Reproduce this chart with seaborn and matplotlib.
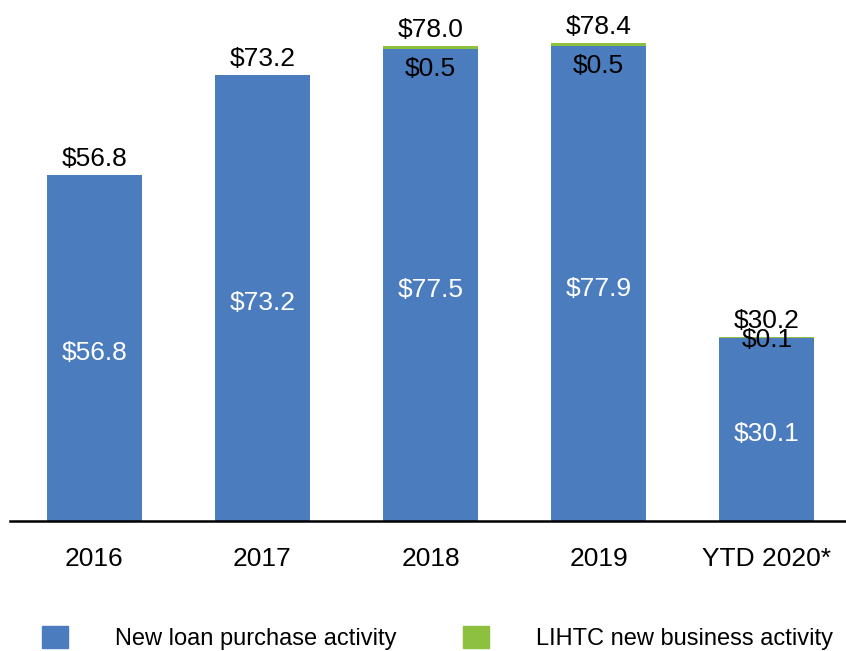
import numpy as np
import pandas as pd
import matplotlib
matplotlib.use('Agg')
import matplotlib.pyplot as plt
import matplotlib.patches as mpatches
import seaborn as sns

sns.set_style('white')
plt.rcParams['font.family'] = ['Liberation Sans', 'DejaVu Sans']

# data
years = ['2016', '2017', '2018', '2019', 'YTD 2020*']
loan_purchase = [56.8, 73.2, 77.5, 77.9, 30.1]
lihtc = [0.0, 0.0, 0.5, 0.5, 0.1]
totals = [56.8, 73.2, 78.0, 78.4, 30.2]
lihtc_labels = ['', '', '$0.5', '$0.5', '$0.1']

blue = '#4A7CBE'
green = '#8DC03F'

df = pd.DataFrame({'year': years, 'loan': loan_purchase, 'lihtc': lihtc, 'total': totals})

fig = plt.figure(figsize=(8.46, 6.51), dpi=100)
ax = fig.add_axes([10 / 846, 130 / 651, 836 / 846, 521 / 651])

# stacked bars: total (green) behind, loan purchase (blue) in front
sns.barplot(data=df, x='year', y='total', color=green, width=0.565, saturation=1,
            linewidth=0, ax=ax)
sns.barplot(data=df, x='year', y='loan', color=blue, width=0.565, saturation=1,
            linewidth=0, ax=ax)

ax.set_xlim(-0.5, 4.47)
ax.set_ylim(0, 85.5)
ax.set_xlabel('')
ax.set_ylabel('')
ax.set_yticks([])
for s in ['top', 'right', 'left']:
    ax.spines[s].set_visible(False)
ax.spines['bottom'].set_color('black')
ax.spines['bottom'].set_linewidth(1.8)
ax.tick_params(axis='x', length=0, pad=18.5, labelsize=19, colors='black')

# value labels
lihtc_off = [0, 0, -16.5, -16.5, -2.5]
for i in range(len(years)):
    ax.annotate('$%.1f' % loan_purchase[i], (i, loan_purchase[i] / 2), xytext=(0, -3.5),
                textcoords='offset points', color='white', ha='center', va='center', fontsize=19)
    ax.annotate('$%.1f' % totals[i], (i, totals[i]), xytext=(0, 3), textcoords='offset points',
                ha='center', va='bottom', fontsize=19, color='black')
    if lihtc_labels[i]:
        ax.annotate(lihtc_labels[i], (i, totals[i]), xytext=(0, lihtc_off[i]),
                    textcoords='offset points', ha='center', va='center', fontsize=19, color='black')

handles = [mpatches.Patch(color=blue, label='New loan purchase activity'),
           mpatches.Patch(color=green, label='LIHTC new business activity')]
fig.legend(handles=handles, loc='center left', bbox_to_anchor=(42 / 846, 1 - 638 / 651),
           ncol=2, frameon=False, fontsize=17, borderpad=0, borderaxespad=0, labelcolor='black',
           handlelength=1.1, handleheight=1.1, handletextpad=2.0, columnspacing=2.8)

fig.savefig('out.png', dpi=100)
